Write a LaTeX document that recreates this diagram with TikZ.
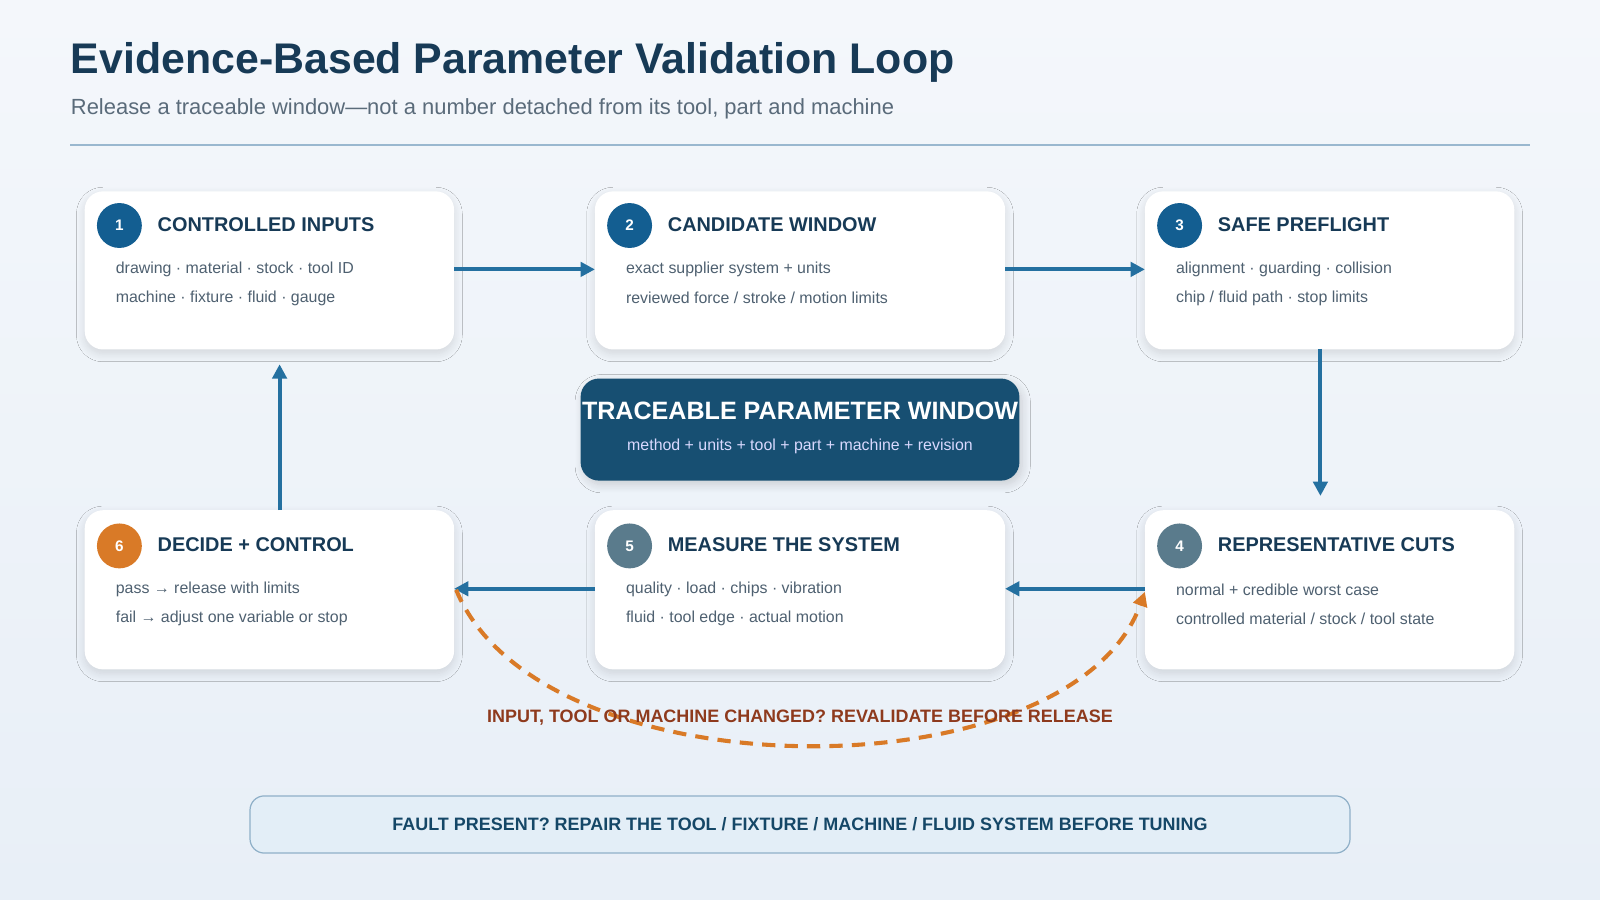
\documentclass[tikz,border=0pt]{standalone}
\usepackage{fontspec}
\setmainfont{Liberation Sans}
\usetikzlibrary{arrows.meta,shadows.blur}
\definecolor{navy}{HTML}{173A56}
\definecolor{subg}{HTML}{5A6B7A}
\definecolor{bodyg}{HTML}{4E6070}
\definecolor{blueA}{HTML}{135E91}
\definecolor{slateA}{HTML}{5A7B8C}
\definecolor{orangeA}{HTML}{D97A27}
\definecolor{arrowA}{HTML}{2470A0}
\definecolor{centerA}{HTML}{174F72}
\definecolor{rustA}{HTML}{8E3A1D}
\definecolor{bgtop}{HTML}{F4F7FB}
\definecolor{bgbot}{HTML}{E8EFF7}
\definecolor{ruleA}{HTML}{9AB8CF}
\definecolor{banfill}{HTML}{E3EEF7}
\definecolor{bandraw}{HTML}{8FB0C8}
\tikzset{
 card/.style={draw=none,fill=white,rounded corners=18pt,blur shadow={shadow blur steps=10,shadow blur radius=8pt,shadow xshift=0pt,shadow yshift=-4pt,shadow opacity=12}},
 num/.style={circle,minimum size=44pt,inner sep=0pt,text=white,font=\fontsize{15}{18}\selectfont\bfseries},
 ctitle/.style={anchor=west,text=navy,font=\fontsize{19.5}{22}\selectfont\bfseries},
 cbody/.style={anchor=west,text=bodyg,font=\fontsize{15.6}{18}\selectfont},
 flow/.style={draw=arrowA,line width=4pt,-{Triangle[length=14pt,width=14pt]}},
}
\begin{document}
\begin{tikzpicture}[x=1pt,y=-1pt]
\shade[top color=bgtop,bottom color=bgbot] (0,0) rectangle (1568,882);
\useasboundingbox (0,0) rectangle (1568,882);
\node[anchor=west,text=navy,font=\fontsize{42}{46}\selectfont\bfseries] (title) at (66,61) {Evidence-Based Parameter Validation Loop};
\node[anchor=west,text=subg,font=\fontsize{21.5}{24}\selectfont] (sub) at (66,107) {Release a traceable window—not a number detached from its tool, part and machine};
\draw[color=ruleA,line width=1.2pt] (69,142) -- (1499,142);
% cards
\node[card,minimum width=362pt,minimum height=155pt] (c1) at (264,265) {};
\node[card,minimum width=402pt,minimum height=155pt] (c2) at (784,265) {};
\node[card,minimum width=362pt,minimum height=155pt] (c3) at (1303,265) {};
\node[card,minimum width=362pt,minimum height=156pt] (c6) at (264,578) {};
\node[card,minimum width=402pt,minimum height=156pt] (c5) at (784,578) {};
\node[card,minimum width=362pt,minimum height=156pt] (c4) at (1303,578) {};
% card 1
\node[num,fill=blueA] (n1) at (117,221) {1};
\node[ctitle] (t1) at (151,220) {CONTROLLED INPUTS};
\node[cbody] (b1a) at (110,264) {drawing · material · stock · tool ID};
\node[cbody] (b1b) at (110,292) {machine · fixture · fluid · gauge};
% card 2
\node[num,fill=blueA] (n2) at (617,221) {2};
\node[ctitle] (t2) at (651,220) {CANDIDATE WINDOW};
\node[cbody] (b2a) at (610,264) {exact supplier system + units};
\node[cbody] (b2b) at (610,292) {reviewed force / stroke / motion limits};
% card 3
\node[num,fill=blueA] (n3) at (1156,221) {3};
\node[ctitle] (t3) at (1190,220) {SAFE PREFLIGHT};
\node[cbody] (b3a) at (1149,264) {alignment · guarding · collision};
\node[cbody] (b3b) at (1149,292) {chip / fluid path · stop limits};
% card 6
\node[num,fill=orangeA] (n6) at (117,535) {6};
\node[ctitle] (t6) at (151,534) {DECIDE + CONTROL};
\node[cbody] (b6a) at (110,578) {pass → release with limits};
\node[cbody] (b6b) at (110,606) {fail → adjust one variable or stop};
% card 5
\node[num,fill=slateA] (n5) at (617,535) {5};
\node[ctitle] (t5) at (651,534) {MEASURE THE SYSTEM};
\node[cbody] (b5a) at (610,578) {quality · load · chips · vibration};
\node[cbody] (b5b) at (610,606) {fluid · tool edge · actual motion};
% card 4
\node[num,fill=slateA] (n4) at (1156,535) {4};
\node[ctitle] (t4) at (1190,534) {REPRESENTATIVE CUTS};
\node[cbody] (b4a) at (1149,578) {normal + credible worst case};
\node[cbody] (b4b) at (1149,606) {controlled material / stock / tool state};
% center
\node[fill=centerA,rounded corners=18pt,minimum width=430pt,minimum height=100pt,blur shadow={shadow blur steps=10,shadow blur radius=8pt,shadow yshift=-4pt,shadow opacity=15}] (center) at (784,421) {};
\node[text=white,font=\fontsize{24.6}{28}\selectfont\bfseries] (ct) at (784,403) {TRACEABLE PARAMETER WINDOW};
\node[text=white!85!blue,font=\fontsize{15.6}{18}\selectfont] (cs) at (784,437) {method + units + tool + part + machine + revision};
% arrows
\coordinate (a1s) at (445,264); \coordinate (a1e) at (583,264);
\coordinate (a2s) at (985,264); \coordinate (a2e) at (1122,264);
\coordinate (a3s) at (1294,342); \coordinate (a3e) at (1294,486);
\coordinate (a4s) at (1122,577); \coordinate (a4e) at (985,577);
\coordinate (a5s) at (583,577); \coordinate (a5e) at (445,577);
\coordinate (a6s) at (274,500); \coordinate (a6e) at (274,357);
\draw[flow] (a1s) -- (a1e);
\draw[flow] (a2s) -- (a2e);
\draw[flow] (a3s) -- (a3e);
\draw[flow] (a4s) -- (a4e);
\draw[flow] (a5s) -- (a5e);
\draw[flow] (a6s) -- (a6e);
% dashed loop
\coordinate (l1) at (447,578); \coordinate (l2) at (1122,580);
\draw[draw=orangeA,line width=4pt,dash pattern=on 13pt off 9pt,-{Triangle[length=14pt,width=14pt]}] (l1) .. controls (530,780) and (1050,780) .. (l2);
\node[text=rustA,font=\fontsize{17.6}{20}\selectfont\bfseries] (loopl) at (784,703) {INPUT, TOOL OR MACHINE CHANGED? REVALIDATE BEFORE RELEASE};
% bottom banner
\node[fill=banfill,draw=bandraw,line width=1.2pt,rounded corners=14pt,minimum width=1078pt,minimum height=56pt,text=centerA!90!black,font=\fontsize{17.6}{20}\selectfont\bfseries] (fault) at (784,808) {FAULT PRESENT? REPAIR THE TOOL / FIXTURE / MACHINE / FLUID SYSTEM BEFORE TUNING};
\end{tikzpicture}
\end{document}
